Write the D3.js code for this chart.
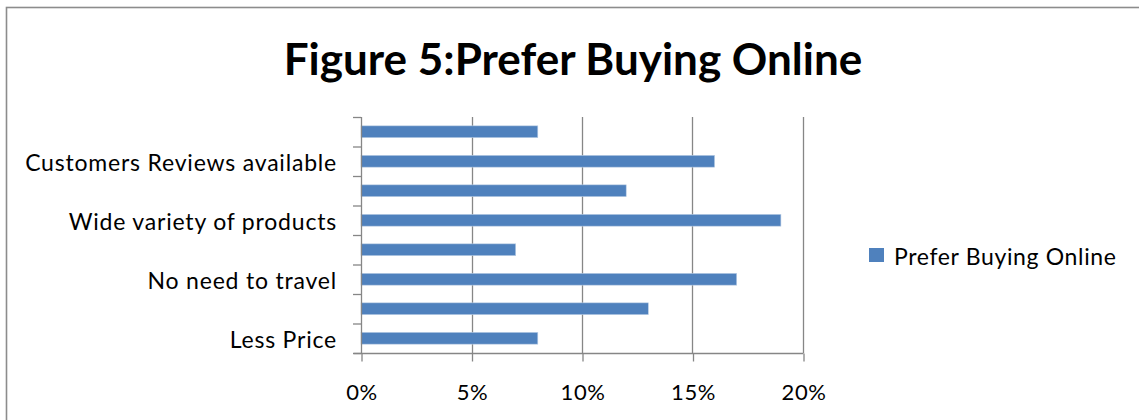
<!DOCTYPE html>
<html>
<head>
<meta charset="utf-8">
<script src="https://cdn.jsdelivr.net/npm/d3@7"></script>
<style>
  html, body { margin: 0; padding: 0; background: #fff; }
  svg { display: block; }
  text { font-family: Lato, "Open Sans", sans-serif; fill: #000; }
</style>
</head>
<body>
<svg id="chart" width="1139" height="420"></svg>
<script>
// Reasons for preferring online shopping, listed bottom to top.
// Only every other category name fits on the axis, so the rest stay blank.
const categories = [
  "Less Price", "", "No need to travel", "",
  "Wide variety of products", "", "Customers Reviews available", ""
];
const values = [0.08, 0.13, 0.17, 0.07, 0.19, 0.12, 0.16, 0.08];
const xTicks = [0, 0.05, 0.10, 0.15, 0.20];
const seriesName = "Prefer Buying Online";
const titleText = "Figure 5:Prefer Buying Online";

const svg = d3.select("#chart");
const W = 1139, H = 420;
const plot = { left: 361, right: 803, top: 117, bottom: 353 };
const gridColor = "#868686";
const barColor = "#4f81bd";
const labelFont = 23;

// outer chart frame (runs past the right and bottom edges)
svg.append("rect")
  .attr("x", 6.5).attr("y", 7.5)
  .attr("width", W + 20).attr("height", H + 20)
  .attr("fill", "#fff")
  .attr("stroke", "#8c8c8c").attr("stroke-width", 1.6);

// title
svg.append("text")
  .attr("x", 573).attr("y", 75)
  .attr("text-anchor", "middle")
  .attr("font-size", 44).attr("font-weight", "bold")
  .text(titleText);

const x = d3.scaleLinear().domain([0, 0.20]).range([plot.left, plot.right]);
const idx = d3.range(categories.length);
const y = d3.scaleBand().domain(idx).range([plot.bottom, plot.top]).paddingInner(0.6).paddingOuter(0.3);
const yTicks = d3.scaleBand().domain(idx).range([plot.bottom, plot.top]);

// vertical gridlines
svg.append("g").selectAll("line")
  .data(xTicks.slice(1))
  .join("line")
  .attr("x1", d => Math.round(x(d)) + 0.5).attr("x2", d => Math.round(x(d)) + 0.5)
  .attr("y1", plot.top).attr("y2", plot.bottom)
  .attr("stroke", gridColor).attr("stroke-width", 1.3);

// bars
svg.append("g").selectAll("rect")
  .data(values)
  .join("rect")
  .attr("x", x(0))
  .attr("y", (d, i) => y(i))
  .attr("width", d => x(d) - x(0))
  .attr("height", y.bandwidth())
  .attr("fill", barColor)
  .attr("stroke", "#b9cde5").attr("stroke-width", 0.6);

// x axis
const xAxis = d3.axisBottom(x)
  .tickValues(xTicks)
  .tickFormat(d3.format(".0%"))
  .tickSize(8).tickPadding(0);
const gx = svg.append("g")
  .attr("transform", `translate(0.5,${plot.bottom + 0.5})`)
  .call(xAxis);
gx.select(".domain").attr("stroke", gridColor).attr("stroke-width", 1.3)
  .attr("d", `M${plot.left - 8},0H${plot.right}`);
gx.selectAll(".tick line").attr("stroke", gridColor).attr("stroke-width", 1.3);
gx.selectAll(".tick text")
  .attr("y", 46).attr("dy", 0)
  .attr("font-size", labelFont - 1).attr("font-family", "Lato, 'Open Sans', sans-serif")
  .attr("letter-spacing", 0.6)
  .attr("fill", "#000");

// y axis: tick marks on band boundaries, labels centred in bands
const gy = svg.append("g");
gy.append("line")
  .attr("x1", plot.left + 0.5).attr("x2", plot.left + 0.5)
  .attr("y1", plot.top).attr("y2", plot.bottom)
  .attr("stroke", gridColor).attr("stroke-width", 1.3);
gy.selectAll("line.tk")
  .data(idx.concat([categories.length]))
  .join("line")
  .attr("class", "tk")
  .attr("x1", plot.left - 8).attr("x2", plot.left)
  .attr("y1", d => (d < categories.length ? yTicks(d) + yTicks.bandwidth() : plot.top) + 0.5)
  .attr("y2", d => (d < categories.length ? yTicks(d) + yTicks.bandwidth() : plot.top) + 0.5)
  .attr("stroke", gridColor).attr("stroke-width", 1.3);
gy.selectAll("text")
  .data(idx.filter(i => categories[i] !== ""))
  .join("text")
  .attr("x", plot.left - 24)
  .attr("y", i => yTicks(i) + yTicks.bandwidth() / 2 + 10)
  .attr("text-anchor", "end")
  .attr("font-size", labelFont)
  .attr("letter-spacing", 0.8)
  .text(i => categories[i]);

// legend
const lg = svg.append("g").attr("transform", "translate(869,248)");
lg.append("rect").attr("width", 15).attr("height", 14).attr("fill", barColor);
lg.append("text").attr("x", 25).attr("y", 17)
  .attr("font-size", labelFont).attr("letter-spacing", 0.65).text(seriesName);
</script>
</body>
</html>
